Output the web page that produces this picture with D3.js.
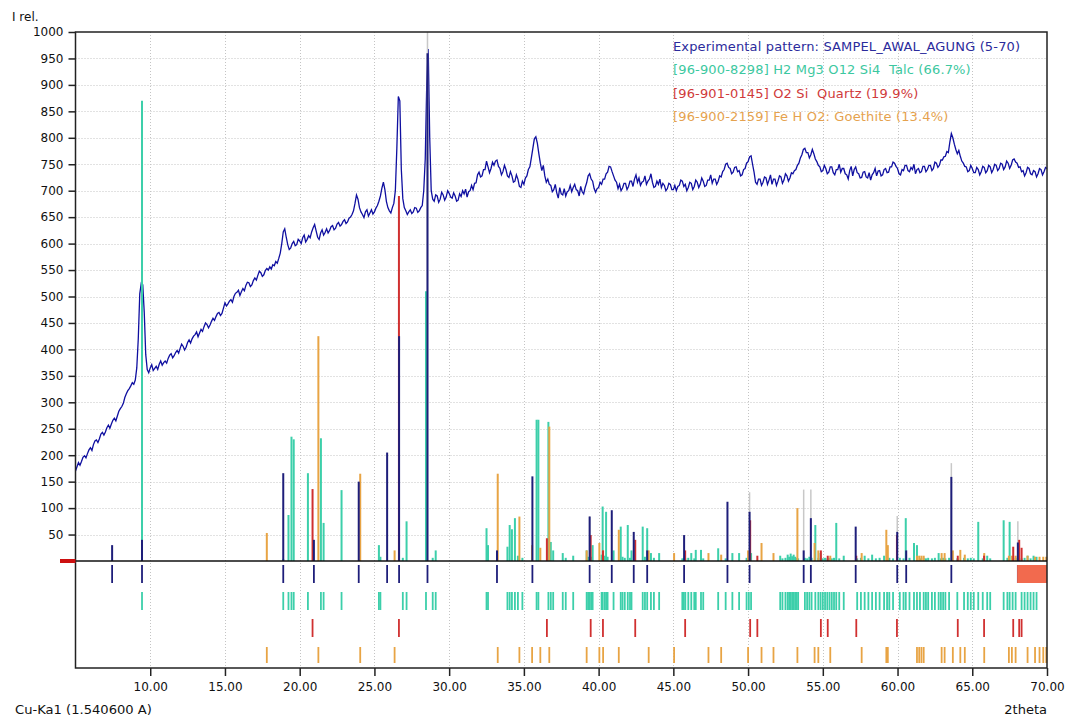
<!DOCTYPE html>
<html><head><meta charset="utf-8">
<script src="https://cdn.jsdelivr.net/npm/d3@7"></script>
<style>body{margin:0;background:#fff;overflow:hidden} text{font-family:"DejaVu Sans",Verdana,sans-serif}</style>
</head><body><svg id="c" width="1072" height="719"></svg>
<script>
// ---------- DATA ----------
const patternStart = 5, patternStep = 0.1;   // 2theta grid of the experimental scan
const patternI = [
170,178,186,181,188,196,199,195,203,210,
214,209,220,227,229,224,231,240,243,238,
244,252,257,251,259,266,270,265,274,283,
288,292,298,309,316,322,326,331,337,334,
342,365,420,505,525,522,470,390,362,356,
365,371,360,364,368,362,372,378,370,375,
378,374,383,389,392,384,388,394,398,393,
402,410,406,399,404,413,418,412,420,425,
428,433,424,431,438,434,443,450,447,441,
446,453,459,455,462,468,470,464,468,478,
488,482,486,491,494,489,500,506,508,512,
502,509,515,511,521,527,526,519,522,530,
535,531,540,548,545,538,541,549,553,550,
556,552,560,558,566,563,572,582,600,622,
628,612,598,589,592,600,604,596,598,608,
605,600,611,616,603,608,615,611,622,630,
636,624,612,608,620,626,616,621,628,620,
625,632,634,626,629,637,640,633,636,642,
645,638,641,648,650,655,662,676,692,684,
668,660,655,649,660,664,652,658,664,656,
660,667,672,680,690,705,716,702,680,668,
662,658,668,676,700,780,878,870,740,685,
668,662,655,660,664,657,660,668,667,659,
662,668,672,700,760,900,968,800,700,684,
680,692,690,678,684,697,692,682,688,700,
695,688,686,696,690,680,682,694,689,700,
694,703,688,698,700,710,702,714,715,730,
735,726,728,740,740,756,745,734,742,754,
748,756,758,746,742,730,736,748,740,728,
725,736,728,716,718,730,722,708,706,718,
712,724,728,740,745,762,780,798,802,790,
770,752,738,748,728,716,722,712,710,698,
702,712,696,686,706,694,692,704,690,698,
700,710,698,706,712,702,700,690,708,698,
694,706,715,728,732,722,718,704,697,704,
706,716,712,722,722,732,735,746,745,736,
728,720,716,704,712,700,705,714,714,702,
708,718,718,708,722,730,716,724,710,716,
718,728,712,718,722,732,716,706,708,718,
712,722,706,714,710,700,704,714,712,702,
702,710,700,708,710,720,718,708,712,700,
706,716,714,702,708,720,716,706,712,724,
718,708,710,720,720,730,714,722,722,712,
718,728,726,736,740,750,752,744,742,732,
735,744,745,736,738,728,730,740,742,752,
755,764,766,750,735,716,712,722,722,710,
716,726,724,712,720,730,712,722,722,710,
718,728,726,714,720,732,728,718,724,734,
732,738,740,748,752,762,768,778,780,772,
772,762,768,778,770,760,755,748,745,736,
738,748,742,732,735,745,745,734,730,740,
740,750,735,742,742,732,730,722,738,746,
728,740,745,734,732,724,725,735,736,726,
724,734,720,730,734,742,728,737,738,728,
730,740,742,734,735,745,745,754,752,746,
742,732,730,740,738,748,748,738,736,744,
740,750,732,740,742,734,736,746,746,736,
740,748,748,738,742,754,752,744,748,758,
758,764,765,774,772,792,808,800,788,778,
770,776,765,756,752,746,745,736,738,748,
742,734,734,744,740,730,736,746,744,734,
738,748,745,734,740,750,748,738,742,752,
750,740,745,756,752,742,748,758,760,754,
752,744,745,736,738,728,734,744,742,732,
730,738,736,726,732,742,740,730,736,744,
742
];

// Talc reference lines [2theta, intensity]
const talcLines = [
[9.45,870],[18.9,4],[19.25,87],[19.45,235],[19.6,230],[20.55,166],[21.42,232],[21.6,72],[22.8,134],
[25.3,30],[25.4,8],[26.9,6],[27.15,75],[28.45,510],[28.9,6],[29.1,20],[32.5,62],[32.6,30],
[33.9,27],[34.05,68],[34.2,60],[34.4,81],[34.6,10],[34.9,6],[35.85,267],[35.97,267],[36.64,263],
[36.8,36],[36.96,20],[37.6,15],[37.8,6],[38.3,10],[39.2,20],[39.3,8],[39.4,6],[39.5,8],[39.6,30],
[40.2,12],[40.27,103],[40.4,10],[40.5,93],[40.6,8],[41.0,20],[41.48,65],[41.6,8],[41.75,6],
[41.95,68],[42.1,6],[42.2,20],[42.95,65],[43.1,8],[43.25,62],[43.5,15],[43.7,6],[44.05,15],
[45.6,5],[45.7,6],[45.8,5],[46.0,6],[46.2,15],[46.4,5],[46.5,21],[46.85,21],[47.0,5],[48.0,24],
[48.5,5],[48.95,15],[49.4,15],[49.9,6],[50.05,5],[50.2,15],[52.15,10],[52.3,5],[52.5,6],
[52.65,12],[52.75,8],[52.85,14],[52.95,9],[53.05,12],[53.15,8],[53.25,6],[53.35,5],
[53.8,6],[53.95,5],[54.1,8],[54.25,6],[54.5,68],[54.7,6],[54.85,15],[55.0,5],[55.15,6],
[55.3,5],[55.45,6],[55.6,5],[55.75,6],[55.9,72],[56.1,5],[56.4,10],[57.3,5],[57.55,6],
[57.8,10],[58.05,5],[58.3,12],[58.55,5],[58.8,6],[59.1,10],[59.3,5],[59.45,6],[59.7,5],
[60.15,6],[60.4,5],[60.55,81],[60.8,6],[61.1,34],[61.3,30],[61.5,5],[61.75,6],[61.9,5],
[62.05,6],[62.3,5],[62.5,6],[62.75,15],[62.9,5],[63.05,6],[63.2,5],[63.45,6],[64.0,5],
[64.45,6],[64.7,5],[64.9,6],[65.1,5],[65.4,74],[65.7,5],[66.0,10],[66.2,5],[67.1,77],
[67.35,6],[67.5,74],[67.7,5],[67.9,6],[68.3,5],[68.5,6],[68.7,10],[68.9,5],[69.1,10],[69.3,8]
];

// Quartz reference lines
const quartzLines = [
[20.86,136],[26.64,690],[36.54,43],[39.47,49],[40.29,20],[42.45,40],[45.79,20],[50.14,77],
[50.62,10],[54.87,20],[55.33,10],[57.24,10],[59.96,49],[64.03,10],[65.79,10],[67.74,27],
[68.14,40],[68.3,25]
];

// Goethite reference lines
const goethiteLines = [
[17.8,53],[21.25,425],[24.05,165],[26.35,20],[33.25,165],[34.7,84],[35.55,30],[36.1,25],
[36.7,254],[39.2,20],[40.05,34],[40.3,20],[41.35,59],[43.35,20],[45.05,15],[47.35,15],
[48.2,12],[50.0,20],[50.9,34],[51.7,15],[53.3,100],[54.45,34],[54.7,20],[55.5,10],[57.6,15],
[59.25,59],[59.35,30],[61.3,10],[61.45,10],[61.6,10],[61.75,10],[62.95,15],[63.15,15],
[63.7,20],[64.2,21],[64.5,12],[65.8,15],[67.45,10],[67.65,10],[67.9,10],[68.7,10],
[69.2,8],[69.5,8],[69.75,8],[69.95,8]
];

// Peak markers of the experimental pattern
const peakMarks = [
[7.45,30],[9.45,40],[18.9,166],[20.95,40],[23.95,150],[25.85,205],[26.65,425],[28.55,960],
[33.2,20],[35.57,160],[39.4,84],[40.88,96],[42.35,55],[43.25,20],[45.72,49],[48.62,112],[50.1,93],
[53.72,20],[54.2,81],[57.2,65],[59.98,55],[60.58,20],[63.6,159],[68.05,35]
];
// Full-height guide lines above some peak markers
const guideLines = [
[28.55,1000],[39.4,85],[50.1,130],[53.72,135],[54.2,135],[59.98,85],[63.6,185],[68.05,75]
];
const unmatchedRange = [68.0, 70.0];

const yTicks = [50,100,150,200,250,300,350,400,450,500,550,600,650,700,750,800,850,900,950,1000];
const xTicks = [10,15,20,25,30,35,40,45,50,55,60,65,70];

const legendItems = [
 {text:"Experimental pattern: SAMPEL_AWAL_AGUNG (5-70)", color:"#2b2b9c"},
 {text:"[96-900-8298] H2 Mg3 O12 Si4  Talc (66.7%)", color:"#3cc8a0"},
 {text:"[96-901-0145] O2 Si  Quartz (19.9%)", color:"#d03a3a"},
 {text:"[96-900-2159] Fe H O2: Goethite (13.4%)", color:"#e5a24e"}
];

// ---------- DRAW ----------
const svg = d3.select("#c");
const L = 75.5, R = 1047, T = 32, B = 668, BASE = 561;
const x = d3.scaleLinear().domain([5,70]).range([L,R]);
const y = d3.scaleLinear().domain([0,1000]).range([BASE,T]);
const FONT = '"DejaVu Sans",Verdana,sans-serif';

const C = {talc:"#3ccfaa", quartz:"#d03030", goe:"#e8a444", navy:"#1e1e7a", curve:"#0f0fa0", guide:"#c8c8c8"};

// grid
const g = svg.append("g");
g.selectAll(".hg").data(yTicks.filter(d=>d<1000)).join("line")
  .attr("x1",L).attr("x2",R).attr("y1",d=>Math.round(y(d))+0.5).attr("y2",d=>Math.round(y(d))+0.5)
  .attr("stroke","#c4c4c4").attr("stroke-dasharray","1,2");
g.selectAll(".vg").data(xTicks.filter(d=>d<70)).join("line")
  .attr("x1",d=>Math.round(x(d))+0.5).attr("x2",d=>Math.round(x(d))+0.5).attr("y1",T).attr("y2",B)
  .attr("stroke","#c4c4c4").attr("stroke-dasharray","1,2");

// legend
svg.append("g").selectAll("text").data(legendItems).join("text")
  .attr("x",673).attr("y",(d,i)=>51+i*23.3).attr("fill",d=>d.color)
  .attr("font-size",13).attr("letter-spacing",0.15).style("white-space","pre").text(d=>d.text);

// experimental curve
const pts = patternI.map((v,i)=>[patternStart+i*patternStep, v]);
svg.append("path").datum(pts)
  .attr("d", d3.line().x(d=>x(d[0])).y(d=>y(d[1])))
  .attr("fill","none").attr("stroke",C.curve).attr("stroke-width",1.3).attr("stroke-linejoin","miter");

// sticks
function sticks(data,color,w){
  svg.append("g").selectAll("line").data(data).join("line")
   .attr("x1",d=>x(d[0])).attr("x2",d=>x(d[0])).attr("y1",BASE).attr("y2",d=>y(d[1]))
   .attr("stroke",color).attr("stroke-width",w);
}
sticks(guideLines,C.guide,1.5);
sticks(talcLines,C.talc,2);
sticks(goethiteLines,C.goe,2);
sticks(quartzLines,C.quartz,2);
sticks(peakMarks,C.navy,2);

// rows below baseline
function row(data,color,y1,y2){
  svg.append("g").selectAll("line").data(data).join("line")
   .attr("x1",d=>x(d[0])).attr("x2",d=>x(d[0])).attr("y1",y1).attr("y2",y2)
   .attr("stroke",color).attr("stroke-width",1.8);
}
row(peakMarks,C.navy,565,583);
row(talcLines,C.talc,592,610);
row(quartzLines,C.quartz,619,637);
row(goethiteLines,C.goe,647,663);
svg.append("rect").attr("x",x(unmatchedRange[0])).attr("y",565)
  .attr("width",x(unmatchedRange[1])-x(unmatchedRange[0])).attr("height",18).attr("fill","#f26a4e");

// frame and baseline
svg.append("rect").attr("x",L).attr("y",T).attr("width",R-L).attr("height",B-T)
  .attr("fill","none").attr("stroke","#222").attr("stroke-width",1.5);
svg.append("line").attr("x1",L).attr("x2",R).attr("y1",BASE).attr("y2",BASE).attr("stroke","#111").attr("stroke-width",1.5);
svg.append("line").attr("x1",60).attr("x2",L).attr("y1",BASE).attr("y2",BASE).attr("stroke","#cc1010").attr("stroke-width",4);

// axes
const ya = svg.append("g").attr("transform",`translate(${L},0)`)
  .call(d3.axisLeft(y).tickValues(yTicks).tickSize(7).tickPadding(5).tickFormat(d3.format("d")));
ya.select(".domain").remove();
ya.selectAll("text").attr("font-size",12).attr("fill","#111").style("font-family",FONT);
ya.selectAll("line").attr("stroke","#222").attr("stroke-width",1.5);

const xa = svg.append("g").attr("transform",`translate(0,${B})`)
  .call(d3.axisBottom(x).tickValues(xTicks).tickSize(8).tickPadding(6).tickFormat(d3.format(".2f")));
xa.select(".domain").remove();
xa.selectAll("text").attr("font-size",12).attr("fill","#111").style("font-family",FONT);
xa.selectAll("line").attr("stroke","#222").attr("stroke-width",1.5);

svg.append("text").attr("x",12).attr("y",21).attr("font-size",12).attr("fill","#111").text("I rel.");
svg.append("text").attr("x",15).attr("y",714).attr("font-size",13.1).attr("fill","#111").text("Cu-Ka1 (1.540600 A)");
svg.append("text").attr("x",1047).attr("y",714).attr("font-size",13).attr("fill","#111").attr("text-anchor","end").text("2theta");
</script></body></html>
